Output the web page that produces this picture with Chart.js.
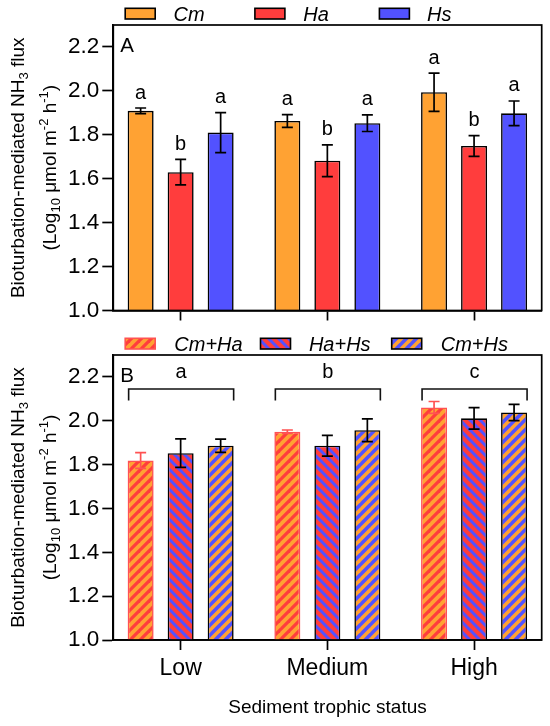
<!DOCTYPE html>
<html><head><meta charset="utf-8">
<script src="https://cdn.jsdelivr.net/npm/chart.js@4.4.1/dist/chart.umd.min.js"></script>
<style>
html,body{margin:0;padding:0;background:#fff;}
#wrap{position:relative;width:550px;height:726px;overflow:hidden;}
#c1{position:absolute;left:0;top:0;}
#c2{position:absolute;left:0;top:330px;}
</style></head><body>
<div id="wrap"><canvas id="c1" width="550" height="330"></canvas><canvas id="c2" width="550" height="396"></canvas></div>
<script>
// ---------- DATA ----------
const categories = ['Low', 'Medium', 'High'];
const yTicks = [1.0, 1.2, 1.4, 1.6, 1.8, 2.0, 2.2];

// Panel A: single species
const seriesA = ['Cm', 'Ha', 'Hs'];
const meanCm = [1.909, 1.863, 1.994];
const errCm  = [0.013, 0.029, 0.087];
const meanHa = [1.630, 1.682, 1.749];
const errHa  = [0.058, 0.072, 0.047];
const meanHs = [1.810, 1.853, 1.898];
const errHs  = [0.091, 0.038, 0.056];
const lettersCm = ['a', 'a', 'a'];
const lettersHa = ['b', 'b', 'b'];
const lettersHs = ['a', 'a', 'a'];

// Panel B: species pairs
const seriesB = ['Cm+Ha', 'Ha+Hs', 'Cm+Hs'];
const meanCmHa = [1.819, 1.950, 2.061];
const errCmHa  = [0.036, 0.008, 0.027];
const meanHaHs = [1.852, 1.886, 2.011];
const errHaHs  = [0.065, 0.047, 0.049];
const meanCmHs = [1.886, 1.957, 2.038];
const errCmHs  = [0.030, 0.052, 0.037];
const groupLettersB = ['a', 'b', 'c'];
const bracketLevel = 2.145;

// ---------- STYLE ----------
const FONT = '"Liberation Sans", Arial, Helvetica, sans-serif';
const ORANGE = '#FFA233', RED = '#FF3D3D', BLUE = '#5252FF', PINK = '#FF5252';

function stripePattern(base, stripe, dir, frac) {
  const P = 10;
  const c = document.createElement('canvas');
  c.width = P; c.height = P;
  const g = c.getContext('2d');
  g.fillStyle = base; g.fillRect(0, 0, P, P);
  g.strokeStyle = stripe;
  g.lineWidth = frac * P / Math.SQRT2;
  for (let o = -P; o <= P; o += P) {
    g.beginPath();
    if (dir > 0) { g.moveTo(o - P, 2 * P); g.lineTo(o + 2 * P, -P); }
    else { g.moveTo(o - P, -P); g.lineTo(o + 2 * P, 2 * P); }
    g.stroke();
  }
  return g.createPattern(c, 'repeat');
}

const toXY = arr => arr.map((v, i) => ({ x: i, y: v }));

function ds(label, values, errors, letters, fill, border, errColor) {
  return { label, data: toXY(values), errors, letters: letters || null,
    backgroundColor: fill, borderColor: border, borderWidth: 1.6,
    borderSkipped: 'start', errColor };
}

const datasetsA = [
  ds(seriesA[0], meanCm, errCm, lettersCm, ORANGE, '#000', '#000'),
  ds(seriesA[1], meanHa, errHa, lettersHa, RED, '#000', '#000'),
  ds(seriesA[2], meanHs, errHs, lettersHs, BLUE, '#000', '#000'),
];
const datasetsB = [
  ds(seriesB[0], meanCmHa, errCmHa, null, stripePattern(ORANGE, RED, 1, 0.45), PINK, PINK),
  ds(seriesB[1], meanHaHs, errHaHs, null, stripePattern(RED, BLUE, -1, 0.42), '#000', '#000'),
  ds(seriesB[2], meanCmHs, errCmHs, null, stripePattern(BLUE, ORANGE, 1, 0.5), '#000', '#000'),
];

// ---------- PLUGINS ----------
const boxPlugin = {
  id: 'box',
  afterDraw(chart) {
    const { ctx, chartArea: a } = chart;
    ctx.save();
    ctx.strokeStyle = '#000'; ctx.lineWidth = 1.7;
    ctx.strokeRect(a.left, a.top, a.right - a.left, a.bottom - a.top);
    ctx.restore();
  }
};

const errorPlugin = {
  id: 'errbars',
  afterDatasetsDraw(chart) {
    const { ctx } = chart;
    const ys = chart.scales.y;
    chart.data.datasets.forEach((d, di) => {
      const meta = chart.getDatasetMeta(di);
      meta.data.forEach((el, i) => {
        const v = d.data[i].y, e = d.errors[i];
        const yt = ys.getPixelForValue(v + e), yb = ys.getPixelForValue(v - e);
        ctx.save();
        ctx.strokeStyle = d.errColor; ctx.lineWidth = 1.7;
        ctx.beginPath();
        ctx.moveTo(el.x, yt); ctx.lineTo(el.x, yb);
        ctx.moveTo(el.x - 5.5, yt); ctx.lineTo(el.x + 5.5, yt);
        ctx.moveTo(el.x - 5.5, yb); ctx.lineTo(el.x + 5.5, yb);
        ctx.stroke();
        if (d.letters) {
          ctx.fillStyle = '#000';
          ctx.font = '20px ' + FONT;
          ctx.textAlign = 'center'; ctx.textBaseline = 'alphabetic';
          ctx.fillText(d.letters[i], el.x, yt - 9.5);
        }
        ctx.restore();
      });
    });
  }
};

const bracketPlugin = {
  id: 'brackets',
  afterDatasetsDraw(chart) {
    const opts = chart.options.plugins.brackets;
    if (!opts || !opts.letters) return;
    const { ctx } = chart;
    const ys = chart.scales.y;
    const n = chart.data.datasets.length;
    const first = chart.getDatasetMeta(0), last = chart.getDatasetMeta(n - 1);
    const y = ys.getPixelForValue(opts.level);
    ctx.save();
    ctx.strokeStyle = '#111'; ctx.lineWidth = 1.6;
    ctx.fillStyle = '#000';
    ctx.font = '20px ' + FONT;
    ctx.textAlign = 'center'; ctx.textBaseline = 'alphabetic';
    opts.letters.forEach((L, i) => {
      const e0 = first.data[i], e1 = last.data[i];
      const x0 = e0.x - e0.width / 2 + 1, x1 = e1.x + e1.width / 2;
      ctx.beginPath();
      ctx.moveTo(x0, y + 11.5); ctx.lineTo(x0, y); ctx.lineTo(x1, y); ctx.lineTo(x1, y + 11.5);
      ctx.stroke();
      ctx.fillText(L, (x0 + x1) / 2, y - 10.5);
    });
    ctx.restore();
  }
};

function drawRotatedRich(ctx, segs, baseX, cy) {
  ctx.save();
  ctx.translate(baseX, cy);
  ctx.rotate(-Math.PI / 2);
  const fontFor = s => (s.sub || s.sup ? '13px ' : '19px ') + FONT;
  let total = 0;
  segs.forEach(s => { ctx.font = fontFor(s); s.w = ctx.measureText(s.t).width; total += s.w; });
  let x = -total / 2;
  ctx.fillStyle = '#000'; ctx.textAlign = 'left'; ctx.textBaseline = 'alphabetic';
  segs.forEach(s => {
    ctx.font = fontFor(s);
    ctx.fillText(s.t, x, s.sub ? 4 : (s.sup ? -8 : 0));
    x += s.w;
  });
  ctx.restore();
}

const yTitlePlugin = {
  id: 'ytitle',
  afterDraw(chart) {
    const { ctx, chartArea: a } = chart;
    const cy = (a.top + a.bottom) / 2;
    drawRotatedRich(ctx, [
      { t: 'Bioturbation-mediated NH' }, { t: '3', sub: true }, { t: ' flux' }
    ], 23.8, cy);
    drawRotatedRich(ctx, [
      { t: '(Log' }, { t: '10', sub: true }, { t: ' \u03bcmol m' }, { t: '-2', sup: true },
      { t: ' h' }, { t: '-1', sup: true }, { t: ')' }
    ], 56, cy);
  }
};

const panelLegendPlugin = {
  id: 'panelLegend',
  afterDraw(chart) {
    const o = chart.options.plugins.panelLegend;
    const { ctx, chartArea: a } = chart;
    ctx.save();
    ctx.fillStyle = '#000';
    ctx.font = '20.5px ' + FONT;
    ctx.textAlign = 'left'; ctx.textBaseline = 'alphabetic';
    ctx.fillText(o.panel, a.left + 7, a.top + 26.7);
    chart.data.datasets.forEach((d, i) => {
      ctx.fillStyle = d.backgroundColor;
      ctx.fillRect(o.boxX[i], 8.3, 30, 10.7);
      ctx.strokeStyle = d.borderColor; ctx.lineWidth = 1.6;
      ctx.strokeRect(o.boxX[i], 8.3, 30, 10.7);
      ctx.fillStyle = '#000';
      ctx.font = 'italic 20px ' + FONT;
      ctx.fillText(d.label, o.textX[i], 20.8);
    });
    ctx.restore();
  }
};

// ---------- CHART FACTORY ----------
function makeChart(canvas, datasets, cfg) {
  return new Chart(canvas, {
    type: 'bar',
    data: { datasets },
    plugins: [boxPlugin, errorPlugin, bracketPlugin, yTitlePlugin, panelLegendPlugin],
    options: {
      responsive: false,
      animation: false,
      layout: { padding: { top: 25, right: 8.3, left: 0, bottom: 0 } },
      datasets: { bar: { barPercentage: 0.65, categoryPercentage: 0.818 } },
      plugins: {
        legend: { display: false },
        tooltip: { enabled: false },
        brackets: cfg.brackets || {},
        panelLegend: cfg.legend
      },
      scales: {
        x: {
          type: 'linear',
          offset: false,
          min: -0.459, max: 2.461,
          afterBuildTicks: s => { s.ticks = categories.map((c, i) => ({ value: i })); },
          afterFit: s => { s.height = cfg.xHeight; },
          grid: { display: true, drawOnChartArea: false, drawTicks: true, tickLength: 10,
                  tickWidth: 1.7, tickColor: '#000', offset: false },
          border: { display: true, color: '#000', width: 1.7 },
          ticks: { display: cfg.showX, callback: v => categories[v], color: '#000',
                   font: { family: FONT, size: 23 }, padding: 5, maxRotation: 0, autoSkip: false },
          title: { display: cfg.showX, text: 'Sediment trophic status', color: '#000',
                   font: { family: FONT, size: 19 }, padding: { top: 0, bottom: 6.6 } }
        },
        y: {
          min: 1.0, max: 2.3,
          afterBuildTicks: s => { s.ticks = yTicks.map(v => ({ value: v })); },
          afterFit: s => { s.width = 113.3; },
          grid: { display: true, drawOnChartArea: false, drawTicks: true, tickLength: 11,
                  tickWidth: 1.7, tickColor: '#000' },
          border: { display: true, color: '#000', width: 1.7 },
          ticks: { callback: v => Number(v).toFixed(1), color: '#000',
                   font: { family: FONT, size: 22.5 }, padding: 3 }
        }
      }
    }
  });
}

makeChart(document.getElementById('c1'), datasetsA, {
  xHeight: 330 - 310.5, showX: false,
  legend: { panel: 'A', boxX: [125.2, 254.9, 379.4], textX: [173.6, 303.3, 427.1] }
});
makeChart(document.getElementById('c2'), datasetsB, {
  xHeight: 396 - 310, showX: true,
  brackets: { letters: groupLettersB, level: bracketLevel },
  legend: { panel: 'B', boxX: [125.2, 260.5, 391.7], textX: [174.3, 308.9, 440.7] }
});
</script>
</body></html>
